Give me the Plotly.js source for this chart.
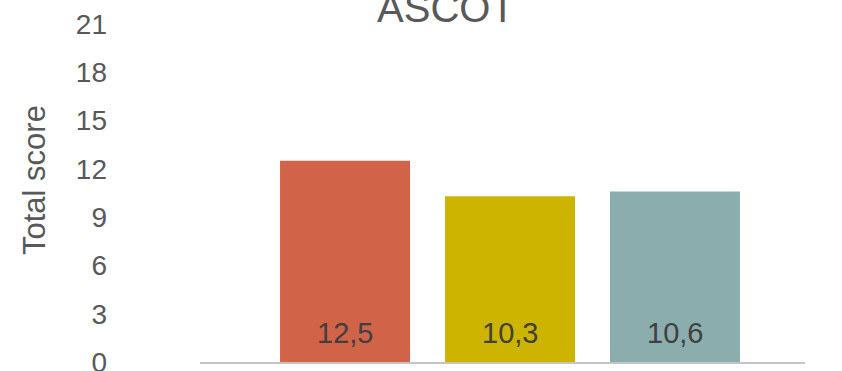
<!DOCTYPE html>
<html>
<head>
<meta charset="utf-8">
<script src="https://cdn.plot.ly/plotly-3.0.1.min.js"></script>
<style>html,body{margin:0;padding:0;background:#fff;}#chart{width:842px;height:371px;}</style>
</head>
<body>
<div id="chart"></div>
<script>
const categories = ["Group 1", "Group 2", "Group 3"];
const values = [12.5, 10.3, 10.6];
const barColors = ["#D16349", "#CCB400", "#8CADAE"];
const yTicks = [0, 3, 6, 9, 12, 15, 18, 21];
const chartTitle = "ASCOT";
const yTitle = "Total score";

const FONT = "Liberation Sans, Arial, sans-serif";

const trace = {
  type: "bar",
  x: categories,
  y: values,
  marker: { color: barColors, line: { width: 0 } },
  hoverinfo: "skip",
  showlegend: false
};

const annotations = categories.map((c, i) => ({
  x: c, y: 0, xref: "x", yref: "y",
  text: values[i].toFixed(1).replace(".", ","),
  showarrow: false, yanchor: "bottom", yshift: 11,
  font: { family: FONT, size: 29, color: "#404040" }
}));
annotations.push({
  xref: "paper", yref: "paper",
  x: (34 - 200) / 605, y: (362 - 180) / 338,
  xanchor: "center", yanchor: "middle",
  text: yTitle, textangle: -90, showarrow: false,
  font: { family: FONT, size: 31, color: "#595959" }
});

const layout = {
  width: 842, height: 371,
  margin: { l: 200, r: 37, t: 24, b: 9, pad: 0 },
  paper_bgcolor: "#ffffff", plot_bgcolor: "#ffffff",
  separators: ",.",
  bargap: 0.212,
  title: {
    text: chartTitle,
    x: 446 / 842, xref: "container", xanchor: "center",
    y: 1 - 8 / 371, yref: "container", yanchor: "middle",
    font: { family: FONT, size: 40, color: "#595959" }
  },
  xaxis: {
    type: "category",
    range: [-0.879, 2.788],
    showticklabels: false, ticks: "",
    showgrid: false, zeroline: false,
    showline: true, linecolor: "#C4C4C4", linewidth: 2
  },
  yaxis: {
    range: [0, 21],
    tickvals: yTicks,
    ticktext: yTicks.map(String),
    ticks: "", showgrid: false, zeroline: false, showline: false,
    ticklabelstandoff: 92,
    ticklabeloverflow: "allow",
    tickfont: { family: FONT, size: 28, color: "#595959" }
  },
  annotations: annotations
};

Plotly.newPlot("chart", [trace], layout, { staticPlot: true, displayModeBar: false });
</script>
</body>
</html>
